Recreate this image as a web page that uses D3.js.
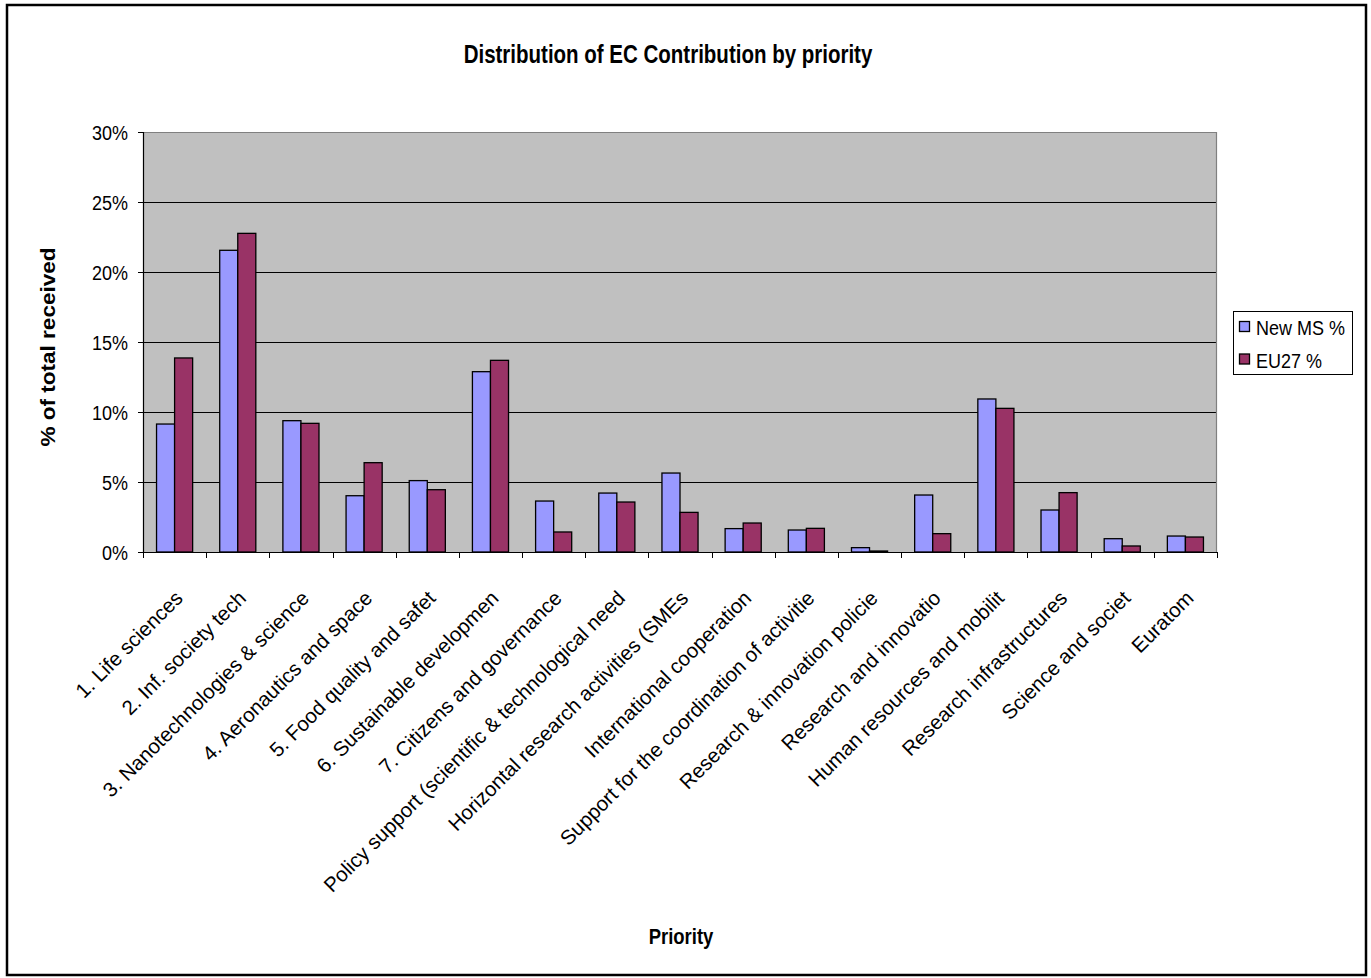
<!DOCTYPE html>
<html>
<head>
<meta charset="utf-8">
<script src="https://cdn.jsdelivr.net/npm/d3@7/dist/d3.min.js"></script>
<style>
  html, body { margin: 0; padding: 0; background: #fff; }
  svg { display: block; }
  text { font-family: "Liberation Sans", Arial, sans-serif; fill: #000; }
</style>
</head>
<body>
<svg id="chart" width="1371" height="978"></svg>
<script>
// Priority categories (labels as they appear along the axis)
const categories = [
  "1. Life sciences",
  "2. Inf. society tech",
  "3. Nanotechnologies & science",
  "4. Aeronautics and space",
  "5. Food quality and safet",
  "6. Sustainable developmen",
  "7. Citizens and governance",
  "Policy support (scientific & technological need",
  "Horizontal research activities (SMEs",
  "International cooperation",
  "Support for the coordination of activitie",
  "Research & innovation policie",
  "Research and innovatio",
  "Human resources and mobilit",
  "Research infrastructures",
  "Science and societ",
  "Euratom"
];

const seriesNames = ["New MS %", "EU27 %"];
const seriesColors = ["#9999FF", "#993366"];

// Share of total EC contribution received (%)
const newMS = [9.14, 21.55, 9.38, 4.02, 5.10, 12.88, 3.64, 4.21, 5.64, 1.67, 1.57, 0.31, 4.07, 10.93, 3.00, 0.95, 1.14];
const eu27  = [13.86, 22.76, 9.19, 6.38, 4.45, 13.69, 1.43, 3.57, 2.83, 2.07, 1.69, 0.07, 1.31, 10.26, 4.24, 0.43, 1.07];

const yTicks = [0, 5, 10, 15, 20, 25, 30];

const titleText = "Distribution of EC Contribution by priority";
const yTitleText = "% of total received";
const xTitleText = "Priority";

const svg = d3.select("#chart");
const STRETCH = 1.15; // horizontal text is drawn slightly tall

// Outer chart frame
svg.append("rect")
  .attr("x", 7).attr("y", 5)
  .attr("width", 1359).attr("height", 970)
  .attr("fill", "#fff").attr("stroke", "#000").attr("stroke-width", 2.5);

const plot = { left: 143, right: 1217, top: 132, bottom: 552 };

const x = d3.scaleBand().domain(categories).range([plot.left, plot.right]).paddingInner(0).paddingOuter(0);
const xs = d3.scaleBand().domain(seriesNames).range([0, x.bandwidth()]).paddingInner(0).paddingOuter(0.75);
const y = d3.scaleLinear().domain([0, 30]).range([plot.bottom, plot.top]);

// Plot background
svg.append("rect")
  .attr("x", plot.left).attr("y", plot.top)
  .attr("width", plot.right - plot.left).attr("height", plot.bottom - plot.top)
  .attr("fill", "#C0C0C0");

// Gridlines
svg.append("g").selectAll("line")
  .data(yTicks.filter(t => t > 0 && t < 30))
  .join("line")
  .attr("x1", plot.left).attr("x2", plot.right)
  .attr("y1", d => Math.round(y(d)) + 0.5).attr("y2", d => Math.round(y(d)) + 0.5)
  .attr("stroke", "#000").attr("stroke-width", 1);

// Plot border top/right (grey)
svg.append("path")
  .attr("d", `M${plot.left},${plot.top + 0.5}H${plot.right - 0.5}V${plot.bottom}`)
  .attr("fill", "none").attr("stroke", "#808080").attr("stroke-width", 1.2);

// Bars
const rows = categories.map((c, i) => ({ c, vals: [newMS[i], eu27[i]] }));
const groups = svg.append("g").selectAll("g")
  .data(rows).join("g")
  .attr("transform", d => `translate(${x(d.c)},0)`);
groups.selectAll("rect")
  .data(d => d.vals.map((v, k) => ({ v, k })))
  .join("rect")
  .attr("x", d => xs(seriesNames[d.k]))
  .attr("width", xs.bandwidth())
  .attr("y", d => y(d.v))
  .attr("height", d => y(0) - y(d.v))
  .attr("fill", d => seriesColors[d.k])
  .attr("stroke", "#000").attr("stroke-width", 1.3);

// Y axis
const yAxis = svg.append("g")
  .attr("transform", `translate(${plot.left},0)`)
  .call(d3.axisLeft(y).tickValues(yTicks).tickSize(5).tickPadding(0).tickFormat(d => d + "%"));
yAxis.select(".domain").attr("stroke", "#000").attr("stroke-width", 1.2);
yAxis.selectAll(".tick line").attr("stroke", "#000");
yAxis.selectAll(".tick text").remove();
yAxis.selectAll(".tick").append("text")
  .attr("text-anchor", "end")
  .attr("transform", `translate(-15,0) scale(1,${STRETCH})`)
  .attr("dy", "0.35em")
  .attr("font-size", 18)
  .text(d => d + "%");

// X axis
const xAxis = svg.append("g")
  .attr("transform", `translate(0,${plot.bottom})`)
  .call(d3.axisBottom(x).tickSize(0).tickFormat(""));
xAxis.select(".domain").attr("stroke", "#000").attr("stroke-width", 1.2);
xAxis.selectAll(".tick").remove();
// tick marks at category boundaries
const bounds = categories.map(c => x(c)).concat([plot.right]);
xAxis.append("g").selectAll("line")
  .data(bounds).join("line")
  .attr("x1", d => Math.round(d) + 0.5).attr("x2", d => Math.round(d) + 0.5)
  .attr("y1", 0).attr("y2", 6)
  .attr("stroke", "#000");

// Rotated category labels
svg.append("g").selectAll("text")
  .data(categories).join("text")
  .attr("transform", d => `translate(${x(d) + x.bandwidth() / 2 - 1},${plot.bottom + 37}) rotate(-45)`)
  .attr("text-anchor", "end")
  .attr("dy", "0.72em")
  .attr("font-size", 20.5)
  .text(d => d);

// Title
svg.append("text")
  .attr("transform", `translate(668,63) scale(1,${STRETCH + 0.07})`)
  .attr("text-anchor", "middle")
  .attr("font-size", 20.5).attr("font-weight", "bold")
  .text(titleText);

// Y title
svg.append("text")
  .attr("transform", `translate(55,347) rotate(-90)`)
  .attr("text-anchor", "middle")
  .attr("font-size", 20).attr("font-weight", "bold")
  .attr("textLength", 199).attr("lengthAdjust", "spacingAndGlyphs")
  .text(yTitleText);

// X title
svg.append("text")
  .attr("transform", `translate(681,944) scale(1,${STRETCH + 0.05})`)
  .attr("text-anchor", "middle")
  .attr("font-size", 18.5).attr("font-weight", "bold")
  .text(xTitleText);

// Legend
const legend = svg.append("g");
legend.append("rect")
  .attr("x", 1233.5).attr("y", 311.5)
  .attr("width", 119).attr("height", 63)
  .attr("fill", "#fff").attr("stroke", "#000").attr("stroke-width", 1);
const items = legend.selectAll("g.item")
  .data(seriesNames).join("g")
  .attr("class", "item")
  .attr("transform", (d, i) => `translate(1239,${321 + i * 32.5})`);
items.append("rect")
  .attr("x", 0.5).attr("y", 0.5)
  .attr("width", 10).attr("height", 10)
  .attr("fill", (d, i) => seriesColors[i])
  .attr("stroke", "#000").attr("stroke-width", 1.3);
items.append("text")
  .attr("transform", `translate(17,14) scale(1,${STRETCH})`)
  .attr("font-size", 18)
  .text(d => d);
</script>
</body>
</html>
